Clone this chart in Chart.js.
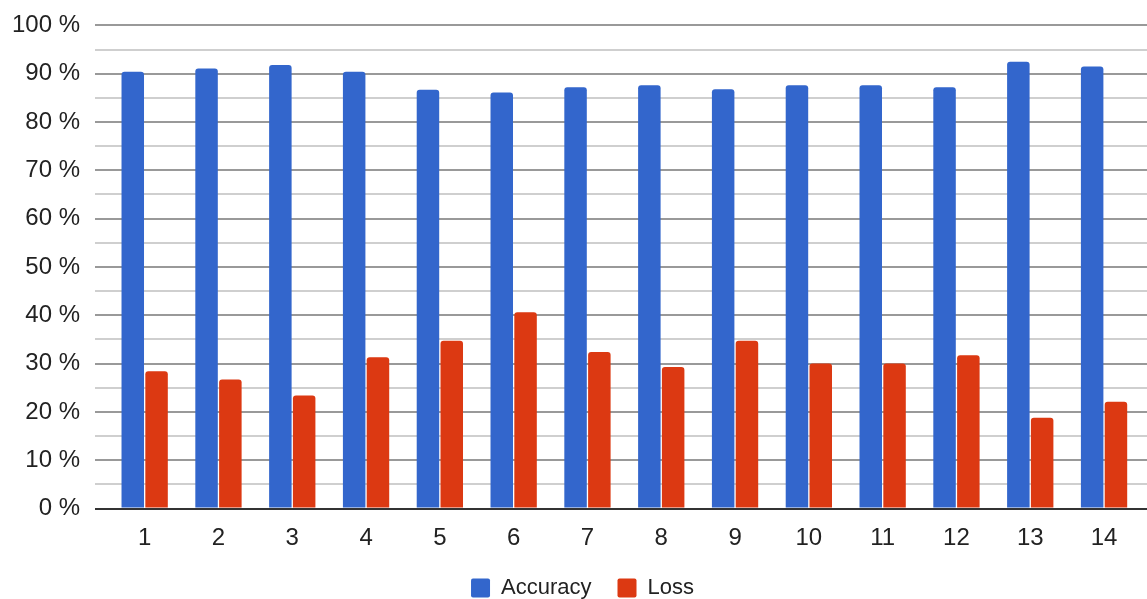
<!DOCTYPE html>
<html>
<head>
<meta charset="utf-8">
<script src="https://cdn.jsdelivr.net/npm/chart.js@4"></script>
<style>
  html, body { margin: 0; padding: 0; background: #fff; }
</style>
</head>
<body>
<canvas id="accuracy-graph" width="1147" height="599"></canvas>
<script>
const runs = ['1', '2', '3', '4', '5', '6', '7', '8', '9', '10', '11', '12', '13', '14']
const accuracy = [90.4, 91.1, 91.8, 90.4, 86.7, 86.1, 87.2, 87.6, 86.8, 87.6, 87.6, 87.2, 92.5, 91.5]
const loss = [28.4, 26.7, 23.4, 31.3, 34.7, 40.6, 32.4, 29.3, 34.7, 30.0, 30.0, 31.7, 18.8, 22.1]
const percentTicks = [0, 10, 20, 30, 40, 50, 60, 70, 80, 90, 100]

const textColor = '#222222'
const fontFamily = '"Liberation Sans", Arial, sans-serif'

// nudge the legend a little right, so it sits under the middle of the bars
const legendShift = {
  id: 'legendShift',
  afterLayout (chart) {
    chart.legend.left += 18
  }
}

const ctx = document.getElementById('accuracy-graph').getContext('2d')

new Chart(ctx, {
  type: 'bar',
  data: {
    labels: runs,
    datasets: [
      {
        label: 'Accuracy',
        data: accuracy,
        backgroundColor: '#3366cc',
        borderRadius: 3,
        borderSkipped: 'start',
        barPercentage: 0.945,
        categoryPercentage: 0.645
      },
      {
        label: 'Loss',
        data: loss,
        backgroundColor: '#dc3912',
        borderRadius: 3,
        borderSkipped: 'start',
        barPercentage: 0.945,
        categoryPercentage: 0.645
      }
    ]
  },
  options: {
    responsive: false,
    animation: false,
    layout: {
      padding: { top: 25.4, left: 0, right: 0, bottom: 0 }
    },
    plugins: {
      legend: {
        position: 'bottom',
        // keep the legend short so the wide item padding doesn't eat the plot
        maxHeight: 48,
        labels: {
          boxWidth: 19,
          boxHeight: 19,
          useBorderRadius: true,
          borderRadius: 2,
          padding: 26,
          color: textColor,
          font: { family: fontFamily, size: 22 }
        }
      },
      tooltip: { enabled: false }
    },
    scales: {
      x: {
        type: 'linear',
        offset: false,
        min: 0.327,
        max: 14.582,
        grid: { display: false },
        border: { display: false },
        ticks: {
          stepSize: 1,
          includeBounds: false,
          padding: 7,
          color: textColor,
          font: { family: fontFamily, size: 24 },
          callback: (v) => runs[v - 1]
        },
        afterFit (scale) {
          scale.height = 42.5
        }
      },
      y: {
        min: 0,
        max: 100,
        border: { display: false },
        grid: {
          // invisible tick marks give the label gap without padding the top
          drawTicks: true,
          tickLength: 15,
          tickColor: 'rgba(0, 0, 0, 0)',
          lineWidth: 2,
          color: (c) => {
            if (c.tick.value === 0) return '#333333'
            return percentTicks.includes(c.tick.value) ? '#999999' : '#cfcfcf'
          }
        },
        ticks: {
          stepSize: 5,
          autoSkip: false,
          maxTicksLimit: 25,
          padding: 0,
          color: textColor,
          font: { family: fontFamily, size: 24 },
          callback: (v) => percentTicks.includes(v) ? v + ' %' : ''
        },
        afterFit (scale) {
          scale.width = 95
        }
      }
    }
  },
  plugins: [legendShift]
})
</script>
</body>
</html>
